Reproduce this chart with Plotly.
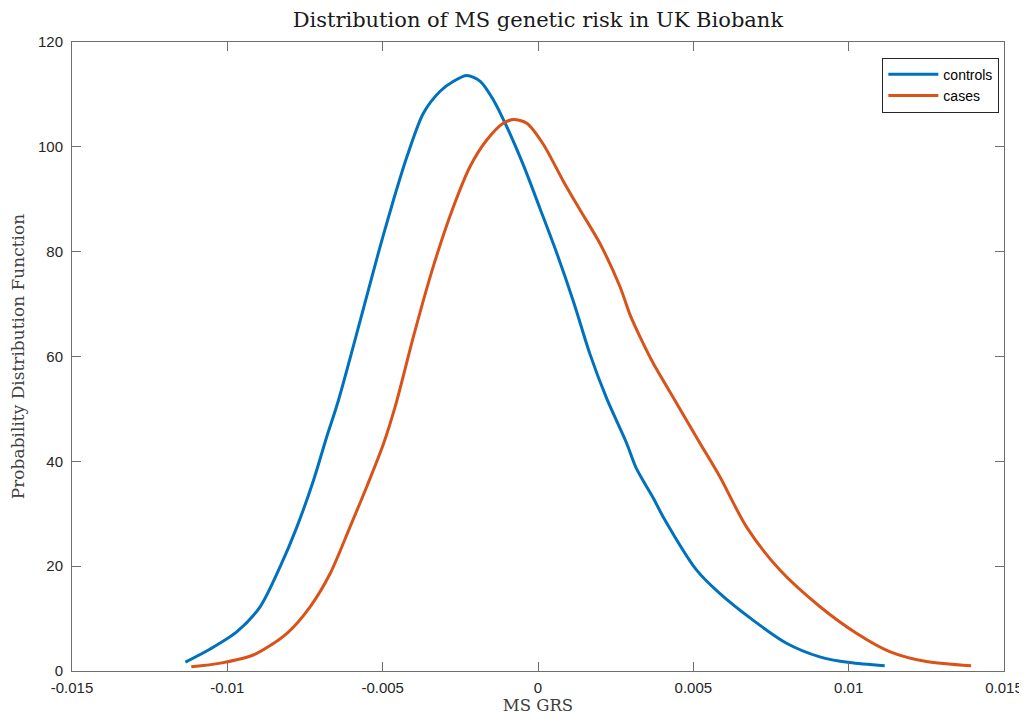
import plotly.graph_objects as go

# controls curve (x = MS GRS, y = PDF)
controls_x = [-0.01135, -0.01055, -0.00969, -0.00894, -0.0083, -0.00776, -0.00722, -0.0068,
              -0.00642, -0.00508, -0.00465, -0.00422, -0.00369, -0.00315, -0.00272, -0.00229,
              -0.00186, -0.00144, -0.00101, -0.00047, 0.00006, 0.0006, 0.00114, 0.00167,
              0.00221, 0.00285, 0.00317, 0.00371, 0.00403, 0.0051, 0.00585, 0.00692, 0.008,
              0.00907, 0.01003, 0.01116]
controls_y = [1.7, 4.2, 7.5, 12.3, 19.9, 27.5, 36.5, 44.7,
              51.7, 81.0, 89.9, 98.1, 106.4, 110.6, 112.5, 113.6,
              112.5, 109.0, 103.9, 96.5, 88.3, 79.8, 70.5, 60.5,
              52.0, 43.5, 38.6, 33.0, 29.4, 19.3, 14.8, 9.7, 5.3,
              2.7, 1.6, 1.0]

# cases curve
cases_x = [-0.01116, -0.01022, -0.00915, -0.00808, -0.00733, -0.00669, -0.00605, -0.00551,
           -0.00497, -0.00457, -0.00401, -0.00337, -0.00272, -0.00219, -0.00165, -0.00112,
           -0.00079, -0.00036, 0.00017, 0.00081, 0.00135, 0.00199, 0.00264, 0.00296,
           0.00328, 0.00371, 0.00446, 0.00521, 0.00585, 0.00671, 0.00778, 0.00907, 0.01025,
           0.01132, 0.0125, 0.01394]
cases_y = [0.8, 1.5, 3.1, 7.2, 12.3, 18.6, 27.5, 35.2,
           43.4, 51.0, 63.8, 77.2, 88.6, 96.2, 101.3, 104.5,
           105.2, 104.5, 100.5, 93.5, 88.0, 81.6, 73.3, 68.0,
           63.8, 58.7, 51.1, 43.5, 37.1, 27.5, 19.3, 12.3, 7.2,
           3.7, 1.8, 1.0]

x_ticks = [-0.015, -0.01, -0.005, 0, 0.005, 0.01, 0.015]
x_tick_labels = ["-0.015", "-0.01", "-0.005", "0", "0.005", "0.01", "0.015"]
y_ticks = [0, 20, 40, 60, 80, 100, 120]

fig = go.Figure()
fig.add_trace(go.Scatter(x=controls_x, y=controls_y, mode="lines", name="controls",
                         line=dict(color="#0072BD", width=3, shape="spline", smoothing=0.8)))
fig.add_trace(go.Scatter(x=cases_x, y=cases_y, mode="lines", name="cases",
                         line=dict(color="#D95319", width=3, shape="spline", smoothing=0.8)))

serif = "DejaVu Serif, Liberation Serif"
axis_common = dict(showline=True, linecolor="#6e6e6e", linewidth=1, mirror="allticks",
                   ticks="inside", ticklen=9, tickcolor="#6e6e6e", showgrid=False,
                   zeroline=False, automargin=False,
                   tickfont=dict(family="Liberation Sans, Arial", size=15, color="#262626"))

fig.update_layout(
    width=1019, height=714,
    margin=dict(l=64, r=23, t=34, b=51, autoexpand=False),
    paper_bgcolor="white", plot_bgcolor="white",
    title=dict(text="Distribution of MS genetic risk in UK Biobank", x=0.520, xanchor="center",
               y=0.983, yanchor="middle", automargin=False,
               font=dict(family=serif, size=21, color="#1a1a1a")),
    xaxis=dict(range=[-0.015, 0.015], tickvals=x_ticks, ticktext=x_tick_labels,
               ticklabelstandoff=3,
               title=dict(text="MS GRS", standoff=3,
                          font=dict(family=serif, size=16.5, color="#404040")),
               **axis_common),
    yaxis=dict(range=[0, 120], tickvals=y_ticks, ticklabelstandoff=5,
               title=dict(text="Probability Distribution Function", standoff=10,
                          font=dict(family=serif, size=17, color="#404040")),
               **axis_common),
    legend=dict(x=0.995, y=0.975, xanchor="right", yanchor="top",
                bordercolor="#262626", borderwidth=1, bgcolor="white",
                font=dict(family="Liberation Sans, Arial", size=14, color="#000000"),
                tracegroupgap=0, itemwidth=50, entrywidth=125, entrywidthmode="pixels"),
    showlegend=True,
)

fig.write_html("out.html")
